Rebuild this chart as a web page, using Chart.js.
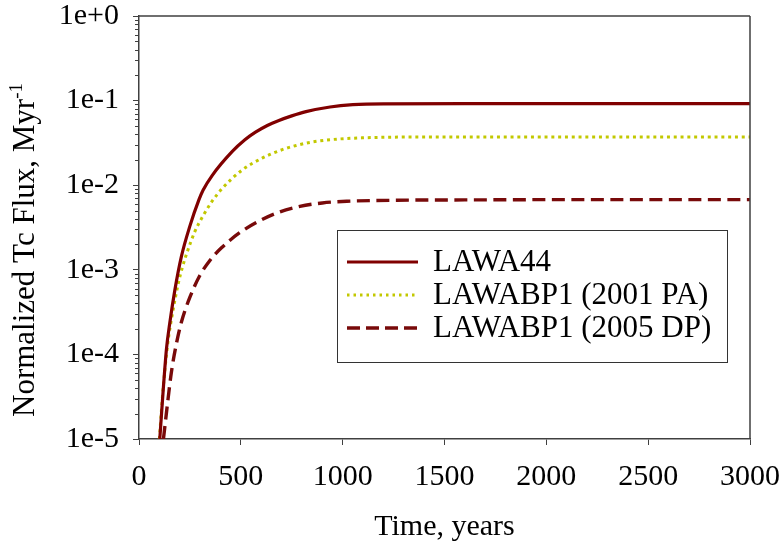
<!DOCTYPE html>
<html>
<head>
<meta charset="utf-8">
<script src="https://cdn.jsdelivr.net/npm/chart.js@4.4.0/dist/chart.umd.min.js"></script>
<style>
html,body{margin:0;padding:0;background:#fff;}
canvas{display:block;}
</style>
</head>
<body>
<canvas id="c" width="782" height="546"></canvas>
<script>
// ---- data ----
const seriesNames = ['LAWA44', 'LAWABP1 (2001 PA)', 'LAWABP1 (2005 DP)'];

const lawa44Time = [102,118,135,151,176,208,249,294,315,359,457,520,572,630,687,750,820,938,1050,1200,1600,2200,3000];
const lawa44Flux = [1.0e-5,3.55e-5,1.17e-4,2.34e-4,5.75e-4,1.43e-3,3.24e-3,6.7e-3,8.77e-3,1.3e-2,2.49e-2,3.44e-2,4.23e-2,5.08e-2,5.82e-2,6.6e-2,7.41e-2,8.41e-2,8.95e-2,9.16e-2,9.2e-2,9.2e-2,9.2e-2];

const pa2001Time = [100,118,143,164,192,213,241,274,315,356,408,506,605,703,772,850,938,1100,1500,2200,3000];
const pa2001Flux = [1.0e-5,3.8e-5,1.45e-4,3.02e-4,6.76e-4,1.07e-3,1.74e-3,2.82e-3,4.37e-3,6.31e-3,9.1e-3,1.51e-2,2.09e-2,2.63e-2,2.95e-2,3.24e-2,3.45e-2,3.63e-2,3.72e-2,3.72e-2,3.72e-2];

const dp2005Time = [120,143,159,184,208,249,298,348,405,495,577,675,790,900,1020,1265,1600,2200,3000];
const dp2005Flux = [1.0e-5,3.02e-5,6.17e-5,1.35e-4,2.4e-4,4.68e-4,8.51e-4,1.29e-3,1.82e-3,2.75e-3,3.63e-3,4.68e-3,5.62e-3,6.17e-3,6.46e-3,6.64e-3,6.7e-3,6.76e-3,6.76e-3];

const yTickValues = [1e-5, 1e-4, 1e-3, 1e-2, 1e-1, 1e0];
const yTickLabels = ['1e-5', '1e-4', '1e-3', '1e-2', '1e-1', '1e+0'];
const xMin = 0, xMax = 3000, xStep = 500;

const xTitle = 'Time, years';
const yTitleMain = 'Normalized Tc Flux, Myr';
const yTitleSup = '-1';

// ---- chart ----
const FONT = '"Liberation Serif", "Times New Roman", serif';
const AXIS = '#404040';

function pts(t, v) { return t.map((x, i) => ({x: x, y: v[i]})); }

const frameAndTicks = {
  id: 'frameAndTicks',
  afterDraw(chart) {
    const ctx = chart.ctx, a = chart.chartArea, ys = chart.scales.y;
    ctx.save();
    ctx.strokeStyle = AXIS;
    ctx.lineWidth = 1.5;
    ctx.beginPath();
    ctx.moveTo(a.left, a.top); ctx.lineTo(a.right, a.top);
    ctx.moveTo(a.right, a.top); ctx.lineTo(a.right, a.bottom);
    ctx.stroke();
    // minor log ticks
    ctx.lineWidth = 1;
    ctx.beginPath();
    for (let e = -5; e < 0; e++) {
      for (let m = 2; m <= 9; m++) {
        const y = Math.round(ys.getPixelForValue(m * Math.pow(10, e))) + 0.5;
        ctx.moveTo(a.left - 4, y); ctx.lineTo(a.left, y);
      }
    }
    ctx.stroke();
    // y title with superscript
    ctx.fillStyle = '#000';
    ctx.font = '31px ' + FONT;
    const w1 = ctx.measureText(yTitleMain).width;
    ctx.font = '19px ' + FONT;
    const w2 = ctx.measureText(yTitleSup).width;
    const total = w1 + w2;
    const cy = 250;
    ctx.translate(34, cy + total / 2);
    ctx.rotate(-Math.PI / 2);
    ctx.textBaseline = 'alphabetic';
    ctx.textAlign = 'left';
    ctx.font = '31px ' + FONT;
    ctx.fillText(yTitleMain, 0, 0);
    ctx.font = '19px ' + FONT;
    ctx.fillText(yTitleSup, w1, -12);
    ctx.restore();
  }
};

const boxLegend = {
  id: 'boxLegend',
  afterDatasetsDraw(chart) {
    const ctx = chart.ctx;
    const bx = 337, by = 230, bw = 390, bh = 132;
    ctx.save();
    ctx.fillStyle = '#fff';
    ctx.fillRect(bx, by, bw, bh);
    ctx.strokeStyle = '#333';
    ctx.lineWidth = 1;
    ctx.strokeRect(bx + 0.5, by + 0.5, bw, bh);
    const rows = [262, 295, 328];
    chart.data.datasets.forEach((ds, i) => {
      const y = rows[i];
      ctx.strokeStyle = ds.borderColor;
      ctx.lineWidth = ds.borderWidth;
      ctx.setLineDash(ds.legendDash || ds.borderDash || []);
      ctx.lineCap = 'butt';
      ctx.beginPath();
      ctx.moveTo(347, y); ctx.lineTo(418, y);
      ctx.stroke();
      ctx.setLineDash([]);
      ctx.fillStyle = '#000';
      ctx.font = '31px ' + FONT;
      ctx.textBaseline = 'middle';
      ctx.textAlign = 'left';
      ctx.fillText(ds.label, 433, y + 1);
    });
    ctx.restore();
  }
};

new Chart(document.getElementById('c'), {
  type: 'line',
  data: {
    datasets: [
      {label: seriesNames[0], data: pts(lawa44Time, lawa44Flux), borderColor: '#800000', borderWidth: 3.2,
       pointRadius: 0, cubicInterpolationMode: 'monotone', fill: false, borderJoinStyle: 'round'},
      {label: seriesNames[1], data: pts(pa2001Time, pa2001Flux), borderColor: '#c2c800', borderWidth: 3,
       borderDash: [3, 3.8], legendDash: [2.5, 4], pointRadius: 0, cubicInterpolationMode: 'monotone', fill: false},
      {label: seriesNames[2], data: pts(dp2005Time, dp2005Flux), borderColor: '#780a0a', borderWidth: 3.4,
       borderDash: [13, 6.5], legendDash: [13, 6], pointRadius: 0, cubicInterpolationMode: 'monotone', fill: false}
    ]
  },
  options: {
    responsive: false,
    animation: false,
    devicePixelRatio: 1,
    layout: {padding: {top: 16, right: 32, left: 0, bottom: 0}},
    plugins: {legend: {display: false}, tooltip: {enabled: false}},
    scales: {
      x: {
        type: 'linear', min: xMin, max: xMax,
        afterFit: s => { s.height = 107; s.paddingLeft = 0; s.paddingRight = 0; },
        ticks: {stepSize: xStep, color: '#000', padding: 14, font: {family: FONT, size: 30}, maxRotation: 0,
                callback: v => String(v)},
        grid: {drawOnChartArea: false, drawTicks: true, tickLength: 6, tickColor: AXIS, tickWidth: 1},
        border: {display: true, color: AXIS, width: 1.5},
        title: {display: true, text: xTitle, color: '#000', font: {family: FONT, size: 30}, padding: {top: 0, bottom: 1}}
      },
      y: {
        type: 'logarithmic', min: 1e-5, max: 1,
        afterFit: s => { s.width = 139; s.paddingTop = 0; s.paddingBottom = 0; },
        afterBuildTicks: s => { s.ticks = yTickValues.map(v => ({value: v, major: true})); },
        ticks: {color: '#000', padding: 14, font: {family: FONT, size: 30, lineHeight: 1},
                callback: (v, i) => yTickLabels[i]},
        grid: {drawOnChartArea: false, drawTicks: true, tickLength: 6, tickColor: AXIS, tickWidth: 1},
        border: {display: true, color: AXIS, width: 1.5}
      }
    }
  },
  plugins: [frameAndTicks, boxLegend]
});
</script>
</body>
</html>
